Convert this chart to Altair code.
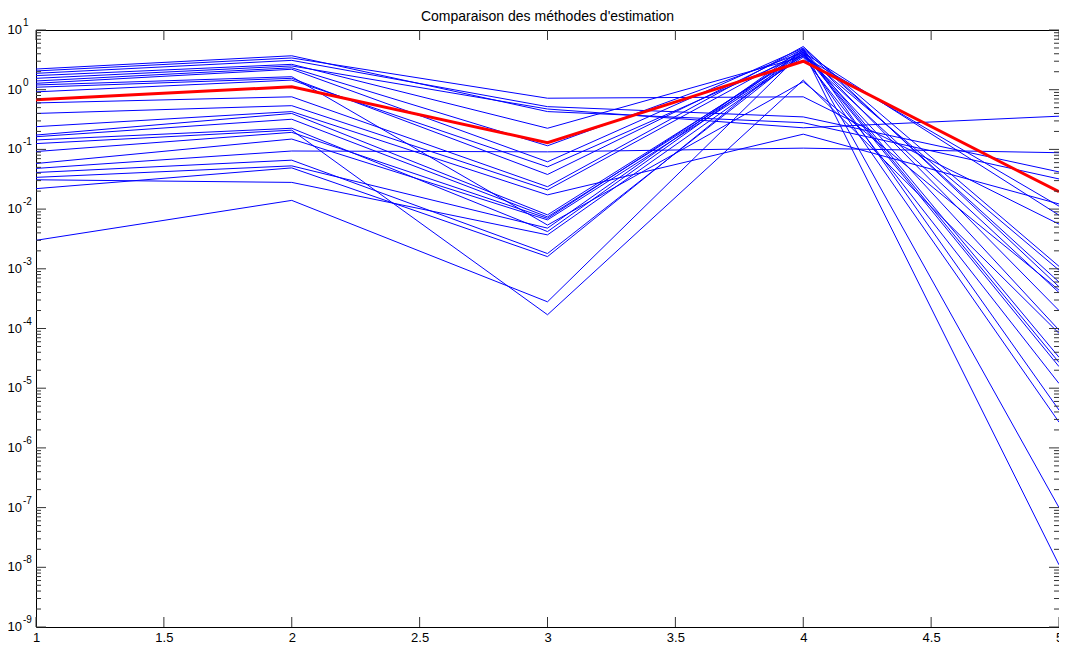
import altair as alt
import pandas as pd

FONT = "Liberation Sans"

x_positions = [1, 2, 3, 4, 5]

blue_lines = [
    [2.22, 3.7, 0.43, 0.28, 0.032],
    [2.06, 3.4, 0.72, 0.76, 0.0056],
    [1.88, 3.1, 0.52, 0.35, 0.042],
    [1.72, 2.66, 0.226, 3.6, 0.0112],
    [1.55, 2.5, 0.475, 0.23, 0.36],
    [1.40, 2.33, 0.115, 4.2, 0.0079],
    [1.28, 2.2, 0.062, 5.0, 0.0011],
    [1.2, 1.65, 0.0054, 1.36, 0.00044],
    [1.1, 1.55, 0.038, 4.8, 0.0006],
    [0.92, 1.45, 0.051, 3.9, 0.00095],
    [0.6, 0.76, 0.0237, 5.3, 0.0005],
    [0.40, 0.54, 0.021, 4.5, 0.0002],
    [0.24, 0.43, 0.0173, 0.18, 0.0122],
    [0.174, 0.40, 0.008, 4.0, 0.000094],
    [0.163, 0.32, 0.0074, 3.7, 0.0004],
    [0.144, 0.226, 0.0042, 4.6, 0.000033],
    [0.125, 0.21, 0.00017, 1.45, 0.000083],
    [0.092, 0.193, 0.007, 4.3, 0.000027],
    [0.058, 0.149, 0.0066, 3.5, 0.000012],
    [0.048, 0.094, 0.091, 0.105, 0.088],
    [0.041, 0.066, 0.0018, 4.1, 0.000023],
    [0.034, 0.053, 0.0048, 4.9, 0.0000043],
    [0.031, 0.028, 0.0037, 3.8, 0.0000027],
    [0.022, 0.049, 0.0016, 4.7, 0.0000001],
    [0.003, 0.014, 0.00028, 4.4, 0.000000011],
]

red_line = [0.68, 1.12, 0.13, 3.0, 0.0195]

x_ticks = [1, 1.5, 2, 2.5, 3, 3.5, 4, 4.5, 5]
decade_exponents = [-9, -8, -7, -6, -5, -4, -3, -2, -1, 0, 1]
minor_multipliers = [2, 3, 4, 5, 6, 7, 8, 9]
title_text = "Comparaison des méthodes d'estimation"

rows = []
for i, vals in enumerate(blue_lines):
    for xv, yv in zip(x_positions, vals):
        rows.append({"series": f"s{i}", "x": xv, "y": yv})
blue_df = pd.DataFrame(rows)
red_df = pd.DataFrame({"x": x_positions, "y": red_line})

xtick_df = pd.DataFrame({"x": x_ticks})
major_df = pd.DataFrame({
    "y": [10.0 ** e for e in decade_exponents],
    "base": ["10"] * len(decade_exponents),
    "exp": [str(e) for e in decade_exponents],
})
minor_df = pd.DataFrame({
    "y": [m * 10.0 ** e for e in decade_exponents[:-1] for m in minor_multipliers]
})

W, H = 1023, 597

xs = alt.Scale(domain=[1, 5], nice=False, zero=False)
ys = alt.Scale(type="log", domain=[1e-9, 10], nice=False)

xenc = alt.X(
    "x:Q", scale=xs,
    axis=alt.Axis(values=x_ticks, format="~g", ticks=False, domain=False, grid=False,
                  labelFont=FONT, labelFontSize=13, labelColor="black",
                  labelPadding=4, labelFlush=False, title=None),
)
yenc = alt.Y("y:Q", scale=ys, axis=None)

TICK = "#333333"

blue = alt.Chart(blue_df).mark_line(color="#0000FF", strokeWidth=1).encode(
    x=xenc, y=yenc, detail="series:N")
red = alt.Chart(red_df).mark_line(color="#FF0000", strokeWidth=3).encode(x=xenc, y=yenc)

xt_bottom = alt.Chart(xtick_df).mark_rule(color=TICK, strokeWidth=1).encode(
    x=xenc, y=alt.value(H), y2=alt.value(H - 10))
xt_top = alt.Chart(xtick_df).mark_rule(color=TICK, strokeWidth=1).encode(
    x=xenc, y=alt.value(0), y2=alt.value(10))

yt_major_l = alt.Chart(major_df).mark_rule(color=TICK, strokeWidth=1).encode(
    y=yenc, x=alt.value(0), x2=alt.value(10))
yt_major_r = alt.Chart(major_df).mark_rule(color=TICK, strokeWidth=1).encode(
    y=yenc, x=alt.value(W), x2=alt.value(W - 10))
yt_minor_l = alt.Chart(minor_df).mark_rule(color=TICK, strokeWidth=1).encode(
    y=yenc, x=alt.value(0), x2=alt.value(5))
yt_minor_r = alt.Chart(minor_df).mark_rule(color=TICK, strokeWidth=1).encode(
    y=yenc, x=alt.value(W), x2=alt.value(W - 5))

ylab_base = alt.Chart(major_df).mark_text(
    align="right", baseline="middle", font=FONT, fontSize=13, color="black", dy=0
).encode(y=yenc, x=alt.value(-14), text="base:N")
ylab_exp = alt.Chart(major_df).mark_text(
    align="left", baseline="middle", font=FONT, fontSize=10, color="black", dy=-7
).encode(y=yenc, x=alt.value(-13), text="exp:N")

chart = alt.layer(
    blue, red, xt_bottom, xt_top, yt_major_l, yt_major_r, yt_minor_l, yt_minor_r,
    ylab_base, ylab_exp,
).properties(
    width=W, height=H,
    title=alt.TitleParams(title_text, font=FONT, fontSize=14, fontWeight="normal",
                          color="black", anchor="middle", offset=-6),
    padding={"left": 28, "top": 22, "right": 0, "bottom": 21},
    autosize=alt.AutoSizeParams(type="none"),
    background="white",
).configure_view(stroke="black", strokeWidth=1)

chart.save("out.html", embed_options={"renderer": "svg", "actions": False})
